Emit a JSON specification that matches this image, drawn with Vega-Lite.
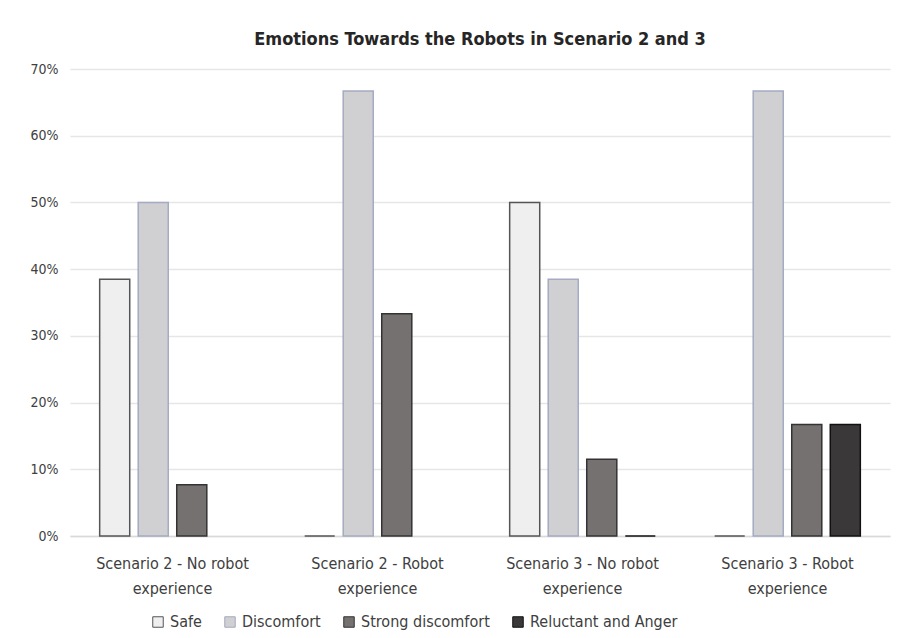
{
  "$schema": "https://vega.github.io/schema/vega-lite/v6.json",
  "autosize": "none",
  "width": 820,
  "height": 467,
  "padding": {"left": 70, "top": 69, "right": 19, "bottom": 102},
  "background": "white",
  "title": {
    "text": "Emotions Towards the Robots in Scenario 2 and 3",
    "font": "Liberation Sans Narrow, DejaVu Sans Condensed, sans-serif",
    "fontSize": 18,
    "fontWeight": "bold",
    "color": "#262626",
    "offset": 13,
    "anchor": "middle"
  },
  "data": {
    "values": [
      {"group": "Scenario 2 - No robot|experience", "emotion": "Safe", "value": 0.385},
      {"group": "Scenario 2 - No robot|experience", "emotion": "Discomfort", "value": 0.5},
      {"group": "Scenario 2 - No robot|experience", "emotion": "Strong discomfort", "value": 0.077},
      {"group": "Scenario 2 - Robot|experience", "emotion": "Safe", "value": 0},
      {"group": "Scenario 2 - Robot|experience", "emotion": "Discomfort", "value": 0.667},
      {"group": "Scenario 2 - Robot|experience", "emotion": "Strong discomfort", "value": 0.333},
      {"group": "Scenario 3 - No robot|experience", "emotion": "Safe", "value": 0.5},
      {"group": "Scenario 3 - No robot|experience", "emotion": "Discomfort", "value": 0.385},
      {"group": "Scenario 3 - No robot|experience", "emotion": "Strong discomfort", "value": 0.115},
      {"group": "Scenario 3 - No robot|experience", "emotion": "Reluctant and Anger", "value": 0},
      {"group": "Scenario 3 - Robot|experience", "emotion": "Safe", "value": 0},
      {"group": "Scenario 3 - Robot|experience", "emotion": "Discomfort", "value": 0.667},
      {"group": "Scenario 3 - Robot|experience", "emotion": "Strong discomfort", "value": 0.167},
      {"group": "Scenario 3 - Robot|experience", "emotion": "Reluctant and Anger", "value": 0.167}
    ]
  },
  "mark": {"type": "bar", "strokeWidth": 1.5},
  "encoding": {
    "x": {
      "field": "group",
      "type": "nominal",
      "sort": null,
      "scale": {"paddingInner": 0, "paddingOuter": 0},
      "axis": {
        "title": null,
        "labelAngle": 0,
        "labelExpr": "split(datum.label, '|')",
        "labelFont": "Liberation Sans Narrow, DejaVu Sans Condensed, sans-serif",
        "labelFontSize": 16,
        "labelColor": "#404040",
        "labelLineHeight": 25,
        "labelPadding": 19,
        "ticks": false,
        "domainColor": "#d9d9d9",
        "domainWidth": 1.5
      }
    },
    "xOffset": {
      "field": "emotion",
      "type": "nominal",
      "sort": ["Safe", "Discomfort", "Strong discomfort", "Reluctant and Anger"],
      "scale": {
        "domain": ["Safe", "Discomfort", "Strong discomfort", "Reluctant and Anger"],
        "paddingInner": 0.22,
        "paddingOuter": 0.77
      }
    },
    "y": {
      "field": "value",
      "type": "quantitative",
      "scale": {"domain": [0, 0.7], "nice": false},
      "axis": {
        "title": null,
        "format": ".0%",
        "values": [0, 0.1, 0.2, 0.3, 0.4, 0.5, 0.6, 0.7],
        "labelOverlap": false,
        "domain": false,
        "ticks": false,
        "labelPadding": 12,
        "labelFont": "Liberation Sans Narrow, DejaVu Sans Condensed, sans-serif",
        "labelFontSize": 14,
        "labelColor": "#404040",
        "gridColor": "#e6e6e6",
        "gridWidth": 1.5
      }
    },
    "fill": {
      "field": "emotion",
      "type": "nominal",
      "scale": {
        "domain": ["Safe", "Discomfort", "Strong discomfort", "Reluctant and Anger"],
        "range": ["#efefef", "#d0cfd1", "#767171", "#3a3838"]
      },
      "legend": {
        "title": null,
        "orient": "none",
        "direction": "horizontal",
        "legendX": 80,
        "legendY": 545,
        "symbolType": "square",
        "symbolSize": 110,
        "symbolStrokeWidth": 1,
        "labelFont": "Liberation Sans Narrow, DejaVu Sans Condensed, sans-serif",
        "labelFontSize": 16,
        "labelColor": "#404040",
        "columnPadding": 20,
        "labelOffset": 4
      }
    },
    "stroke": {
      "field": "emotion",
      "type": "nominal",
      "scale": {
        "domain": ["Safe", "Discomfort", "Strong discomfort", "Reluctant and Anger"],
        "range": ["#555555", "#a4abc2", "#333333", "#111111"]
      },
      "legend": null
    }
  },
  "config": {"view": {"stroke": null}}
}
